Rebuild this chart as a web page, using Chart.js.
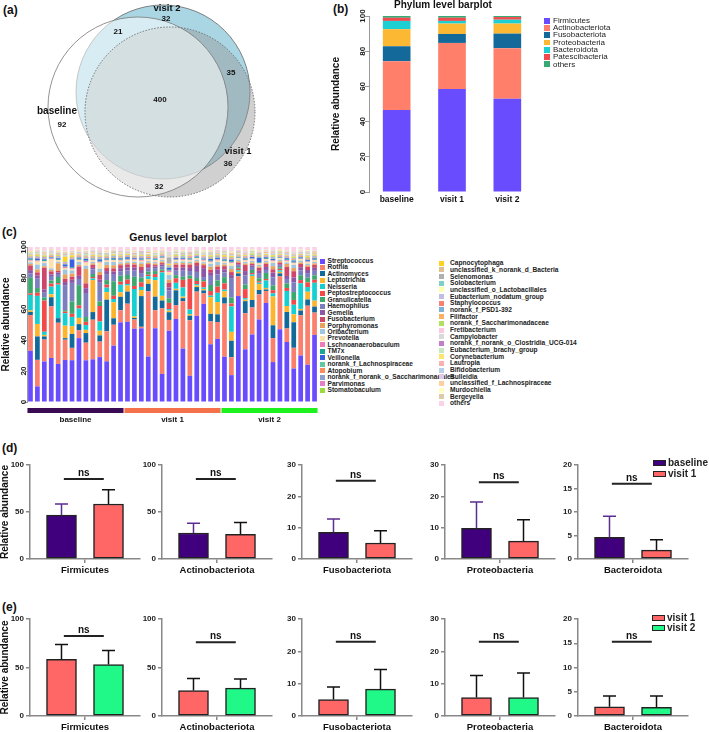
<!DOCTYPE html>
<html>
<head>
<meta charset="utf-8">
<script src="https://cdn.jsdelivr.net/npm/chart.js@4.4.0/dist/chart.umd.min.js"></script>
<style>
  html, body { margin: 0; padding: 0; background: #fff; overflow: hidden; width: 709px; height: 732px; }
  body { position: relative; font-family: Arial, "Liberation Sans", sans-serif; }
  canvas { position: absolute; }
</style>
</head>
<body>
<script>
// ---------- data ----------
// (a) Venn diagram of shared genera
const vennSets = ['baseline', 'visit 1', 'visit 2'];
const vennRegions = ['visit 2 only', 'baseline & visit 2', 'visit 1 & visit 2', 'all', 'baseline only', 'visit 1 only', 'baseline & visit 1'];
const vennCounts = [32, 21, 35, 400, 92, 36, 32];

// (b) phylum level
const phylumGroups = ['baseline', 'visit 1', 'visit 2'];
const phylumNames = ['Firmicutes', 'Actinobacteriota', 'Fusobacteriota', 'Proteobacteria', 'Bacteroidota', 'Patescibacteria', 'others'];
const phylumBaseline = [46.6, 27.7, 8.5, 9.7, 4.7, 1.8, 1.0];
const phylumVisit1 = [58.5, 26.2, 5.1, 5.9, 1.5, 1.8, 1.0];
const phylumVisit2 = [53.0, 28.7, 8.3, 5.7, 2.2, 1.5, 0.6];

// (c) genus level, 42 samples (14 per visit)
const groupNames = ['baseline', 'visit 1', 'visit 2'];
const groupSizes = [14, 14, 14];
const streptococcus = [33,10,26,29,25,27,27,41,26,28, 29,27,35,53,53,48,48,30,49,18, 46,55,35,17,57,66,38,41,29,18, 70,35,45,56,66,25,48,40,21,29, 24,45];
const rothia = [23,17,14,34,27,13,8,5,11,26, 10,20,13,8,12,6,1,43,12,42, 7,9,31,36,16,7,15,11,34,12, 13,24,18,17,8,15,35,9,13,25, 38,15];
const actinomyces = [2,15,2,6,3,1,9,4,6,5, 4,21,4,9,8,1,20,5,9,5, 5,10,2,3,3,2,5,5,4,11, 2,8,5,3,1,8,2,11,16,3, 4,4];
const leptotrichia = [1,8,1,2,0,8,5,4,2,21, 3,5,10,3,4,1,4,3,11,3, 1,1,1,1,1,1,11,8,4,6, 1,1,16,4,1,18,1,4,5,1, 5,4];
const neisseria = [10,18,2,5,22,8,6,6,3,1, 6,3,2,5,1,18,2,2,2,15, 1,4,6,3,1,1,1,6,1,17, 1,1,1,1,5,2,1,10,6,16, 3,12];
const peptostreptococcus = [1,2,20,2,1,1,2,2,2,1, 10,2,2,2,3,2,3,1,2,1, 4,3,5,20,2,4,3,4,4,2, 1,6,1,1,1,2,1,2,3,2, 3,2];
const granulicatella = [10,3,2,2,4,1,8,13,3,2, 3,3,9,4,3,6,3,2,2,1, 3,2,2,2,2,1,4,4,4,4, 1,3,2,2,4,3,1,3,5,3, 3,3];
const haemophilus = [3,6,3,3,2,16,12,4,15,3, 12,4,4,3,3,4,3,2,2,2, 5,3,4,3,4,2,6,4,3,13, 1,6,2,3,2,5,1,3,6,3, 3,3];
const gemella = [2,2,2,1,1,2,2,2,3,1, 2,2,2,2,2,2,2,1,1,1, 2,2,2,2,4,6,2,3,2,2, 1,3,1,2,2,3,1,2,3,2, 2,2];
const fusobacterium = [3,2,14,2,1,2,2,6,3,2, 3,2,2,2,2,2,2,2,1,1, 3,2,2,2,2,2,2,2,2,2, 1,4,1,2,2,2,1,6,4,2, 2,2];
const porphyromonas = [1,2,1,1,5,3,2,1,9,1, 2,2,2,1,1,1,2,1,1,1, 2,1,1,1,1,1,2,1,1,2, 1,1,1,1,1,2,1,2,2,1, 1,1];
const oribacterium = [1,3,2,1,1,3,2,2,2,1, 2,2,2,1,1,1,1,1,1,1, 3,1,1,1,1,1,2,2,1,2, 1,1,1,1,1,2,1,1,2,1, 1,1];
const prevotella = [1,2,1,6,1,1,1,1,2,1, 4,1,1,1,1,1,1,1,1,1, 2,1,1,1,1,1,1,1,1,2, 1,1,1,1,1,1,1,1,1,1, 1,1];
const lschnoanaerobaculum = [.4,.6,.3,.5,.2,.8,.5,.4,1,.3, .6,.4,.3,.5,.2,.4,.6,.2,.3,.4, .8,.3,.5,.4,.2,.6,.5,.7,.3,.6, .2,.4,.5,.3,.4,.6,.2,.5,.4,.3, .5,.4];
const tm7x = [.5,.3,.6,.4,.5,.3,.6,.8,.4,.2, .5,.3,.7,.4,.5,.3,.4,.2,.5,.3, .6,.4,.3,.5,.4,.2,.6,.3,.5,.7, .2,.4,.3,.5,.6,.3,.2,.5,.6,.3, .4,.5];
const veillonella = [.6,1,.5,.3,.6,1.2,5,.5,.8,.4, 1,.6,.5,.6,1,.5,.6,.3,.5,.4, 1.2,.6,.5,.3,.6,.5,1,.6,.5,1, .3,.6,.8,3,.5,.6,.3,.8,.6,.5, .6,.5];
const norankLachnospiraceae = [.4,.2,.5,.3,.4,.5,.3,.2,.4,.3, .5,.4,.2,.4,.3,.2,.5,.3,.2,.4, .5,.2,.4,.3,.2,.4,.3,.5,.4,.2, .3,.4,.2,.5,.3,.4,.2,.3,.5,.4, .2,.4];
const atopobium = [.2,.4,.3,.5,.2,.4,.3,.5,.4,.6, .2,.5,.4,.2,.5,.3,.4,.6,.5,.2, .3,.4,.2,.5,.4,.2,.5,.4,.3,.6, .2,.4,.5,.3,.4,.2,.5,.3,.4,.5, .6,.3];
const norankSaccharimonadales = [.4,.5,.2,.3,.5,.2,.4,.3,.2,.4, .5,.3,.4,.2,.3,.2,.2,.4,.3,.2, .5,.2,.4,.2,.3,.4,.2,.5,.4,.3, .2,.2,.4,.2,.3,.4,.2,.3,.4,.2, .3,.5];
const parvimonas = [.3,.2,.5,.2,.3,.4,.2,.3,.5,.2, .4,.2,.3,.4,.2,.3,.4,.2,.3,.5, .2,.3,.2,.4,.2,.5,.3,.2,.4,.2, .3,.4,.2,.3,.2,.2,.3,.4,.2,.3, .2,.4];
const stomatobaculum = [.2,.5,.4,.3,.2,.4,.5,.2,.3,.4, .2,.5,.3,.4,.2,.5,.2,.3,.4,.2, .3,.5,.4,.2,.3,.2,.4,.3,.2,.5, .3,.2,.4,.3,.2,.4,.3,.2,.5,.2, .4,.3];
const capnocytophaga = [.5,.6,.4,.2,.5,3,1,.4,.2,.5, .6,.2,.5,.4,.5,.2,.4,.5,.2,.4, .6,.5,.2,.4,.2,.5,.6,.4,1,.5, .2,.4,.6,.2,.5,.6,.4,.2,.5,.4, .6,.5];
const unclassifiedBacteria = [.3,.2,.4,.3,.2,.3,.2,.4,.2,.3, .2,.4,.3,.2,.3,.2,.4,.2,.3,.2, .4,.3,.2,.3,.2,.4,.3,.2,.3,.2, .3,.4,.2,.3,.2,.3,.2,.4,.3,.2, .3,.2];
const selenomonas = [.2,.3,.2,0,.3,.2,.4,.2,.3,.2, .3,.2,0,.3,.2,.4,.2,.3,.2,0, 4,.3,.2,.3,0,.2,.3,.2,.4,.2, 0,.3,.2,.2,0,.2,.2,.3,.2,.3, .2,0];
const solobacterium = [.3,.2,.2,.3,.2,.3,0,.2,.3,.2, .2,.3,.2,.3,0,.2,.3,.2,.2,.3, .2,.2,.3,0,.3,.2,.2,.3,.2,.2, .3,0,.3,.2,.2,.3,.2,.2,.3,0, .3,.2];
const unclassifiedLactobacillales = [.2,.2,.3,.2,0,.2,.3,.2,.2,.3, .2,0,.2,.3,.2,.2,0,.3,.2,.2, .2,.3,0,.2,.2,.3,.2,0,.3,.2, .2,.2,.3,0,.2,.2,.3,.2,0,.2, .3,.2];
const eubacteriumNodatum = [.2,0,.2,.3,.2,.2,0,.3,.2,.2, 0,.2,.3,.2,.2,0,.2,.3,.2,0, .2,.2,.3,0,.2,.2,.3,.2,0,.2, .3,.2,0,.2,.2,.3,0,.2,.2,.3, .2,0];
const staphylococcus = [0,.2,.2,0,.3,.2,.2,0,.2,.3, .2,0,.2,.2,0,.3,.2,.2,0,.2, .2,0,.3,.2,.2,0,.2,.2,0,.3, .2,.2,0,.2,.3,0,.2,.2,.2,0, .2,.3];
const norankPSD1 = [.2,.2,0,.2,.2,.3,0,.2,.2,0, .3,.2,.2,0,.2,.2,.3,0,.2,.2, 0,.2,.3,.2,0,.2,.2,0,.3,.2, .2,0,.2,.2,0,.3,.2,.2,0,.2, .2,.2];
const filifactor = [.3,0,.2,.2,0,.2,.3,.2,0,.2, .2,.3,0,.2,.2,0,.2,.3,.2,0, .2,.2,0,.3,.2,.2,0,.2,.2,.3, 0,.2,.2,0,.2,.3,.2,0,.2,.2, 0,.3];
const norankSaccharimonadaceae = [.2,.3,.2,0,.2,.2,.3,0,.2,.2, .2,0,.3,.2,.2,0,.2,.2,.3,0, .2,.2,.2,0,.3,.2,.2,0,.2,.2, .3,0,.2,.2,.2,0,.3,.2,.2,0, .2,.2];
const fretibacterium = [0,.2,.3,.2,0,.2,.2,.2,0,.3, .2,.2,0,.2,.2,.3,0,.2,.2,.2, 0,.3,.2,.2,0,.2,.2,.3,0,.2, .2,.2,0,.3,.2,.2,0,.2,.2,.3, 0,.2];
const campylobacter = [.2,.2,0,.3,.2,0,.2,.2,.3,0, .2,.2,0,.2,.3,.2,0,.2,.2,0, 1.5,.2,.2,0,.2,.3,0,.2,.2,.2, 0,.3,.2,0,.2,.2,.2,0,.3,.2, .2,0];
const clostridiaUCG014 = [0,.2,.2,.2,0,.3,.2,0,.2,.2, .3,0,.2,.2,.2,0,.3,.2,0,.2, .2,.2,0,.3,.2,0,.2,.2,.2,0, .3,.2,0,.2,.2,.2,0,.3,.2,0, .2,.2];
const eubacteriumBrachy = [.2,0,.3,.2,.2,0,.2,.2,0,.3, .2,.2,0,.2,.2,.3,0,.2,.2,0, .2,.3,.2,0,.2,.2,0,.3,.2,.2, 0,.2,.2,.3,0,.2,.2,0,.2,.3, .2,0];
const corynebacterium = [.3,.2,0,.2,.2,.3,0,.2,.2,0, .2,.3,.2,0,.2,.2,0,.3,.2,.2, 0,.2,.2,.3,0,.2,.2,0,.2,.3, .2,0,.2,.2,.3,0,.2,.2,0,.2, .3,.2];
const lautropia = [.2,.2,.3,0,.2,.2,0,.3,.2,.2, 0,.2,.2,.3,0,.2,.2,0,.3,.2, .2,0,.2,.2,.3,0,.2,.2,0,.2, .3,.2,0,.2,.2,0,.3,.2,.2,0, .2,.2];
const bifidobacterium = [0,.2,.2,.3,0,.2,.2,0,.2,.3, .2,0,.2,.2,0,.3,.2,.2,0,.2, .2,.3,0,.2,.2,0,.2,.3,.2,0, .2,.2,0,.3,.2,.2,0,.2,.2,0, .3,.2];
const bulleidia = [.2,0,.2,.2,.3,0,.2,.2,0,.2, .3,.2,0,.2,.2,0,.2,.3,.2,0, .2,.2,0,.3,.2,.2,0,.2,.2,0, .3,.2,.2,0,.2,.2,0,.3,.2,.2, 0,.2];
const unclassifiedLachnospiraceae = [.2,.3,0,.2,.2,0,.3,.2,.2,0, .2,.2,.3,0,.2,.2,0,.2,.3,.2, 0,.2,.2,0,.3,.2,.2,0,.2,.2, 0,.3,.2,.2,0,.2,.2,0,.3,.2, .2,0];
const murdochiella = [0,.2,.2,0,.2,.3,.2,0,.2,.2, 0,.3,.2,.2,0,.2,.2,0,.2,.3, .2,0,.2,.2,0,.3,.2,.2,0,.2, .2,0,.3,.2,.2,0,.2,.2,0,.2, .3,.2];
const bergeyella = [.2,.2,0,.3,.2,.2,0,.2,.2,.3, 0,.2,.2,0,.3,.2,.2,0,.2,.2, .3,0,.2,.2,0,.2,.3,.2,0,.2, .2,.3,0,.2,.2,0,.2,.3,.2,0, .2,.2];
const genusOthers = [2,1.5,2,1.5,2,2.5,2,1.5,2,1.5, 2,2,1.5,2,1.5,2,2,1.5,2,1.5, 2.5,1.5,2,2,1.5,2,2,1.5,2,2.5, 1.5,2,1.5,2,1.5,2,1.5,2,2.5,1.5, 2,2];

const genusNames = ['Streptococcus','Rothia','Actinomyces','Leptotrichia','Neisseria','Peptostreptococcus','Granulicatella','Haemophilus','Gemella','Fusobacterium','Porphyromonas','Oribacterium','Prevotella','Lschnoanaerobaculum','TM7x','Veillonella','norank_f_Lachnospiraceae','Atopobium','norank_f_norank_o_Saccharimonadales','Parvimonas','Stomatobaculum',
  'Capnocytophaga','unclassified_k_norank_d_Bacteria','Selenomonas','Solobacterium','unclassified_o_Lactobacillales','Eubacterium_nodatum_group','Staphylococcus','norank_f_PSD1-392','Filifactor','norank_f_Saccharimonadaceae','Fretibacterium','Campylobacter','norank_f_norank_o_Clostridia_UCG-014','Eubacterium_brachy_group','Corynebacterium','Lautropia','Bifidobacterium','Bulleidia','unclassified_f_Lachnospiraceae','Murdochiella','Bergeyella','others'];
const genusSeries = [streptococcus, rothia, actinomyces, leptotrichia, neisseria, peptostreptococcus, granulicatella, haemophilus, gemella, fusobacterium, porphyromonas, oribacterium, prevotella, lschnoanaerobaculum, tm7x, veillonella, norankLachnospiraceae, atopobium, norankSaccharimonadales, parvimonas, stomatobaculum,
  capnocytophaga, unclassifiedBacteria, selenomonas, solobacterium, unclassifiedLactobacillales, eubacteriumNodatum, staphylococcus, norankPSD1, filifactor, norankSaccharimonadaceae, fretibacterium, campylobacter, clostridiaUCG014, eubacteriumBrachy, corynebacterium, lautropia, bifidobacterium, bulleidia, unclassifiedLachnospiraceae, murdochiella, bergeyella, genusOthers];

// (d) / (e) mean and SD of the five main phyla
const phyla = ['Firmicutes', 'Actinobacteriota', 'Fusobacteriota', 'Proteobacteria', 'Bacteroidota'];
const baselineMean = [46.6, 27.7, 8.5, 9.8, 4.6];
const baselineSD = [12.0, 10.3, 4.3, 8.4, 4.5];
const visit1Mean = [58.5, 26.2, 5.1, 5.7, 1.9];
const visit1SD = [15.3, 12.5, 3.9, 6.8, 2.2];
const visit2Mean = [53.0, 28.7, 8.3, 5.7, 1.8];
const visit2SD = [14.5, 9.5, 6.1, 7.6, 2.3];
const yMax = [100, 100, 30, 30, 20];
const yStep = [50, 50, 10, 10, 5];

// ---------- styles / layout ----------
const FONT = 'Arial, "Liberation Sans", sans-serif';
Chart.defaults.font.family = FONT;
Chart.defaults.color = '#111';
Chart.defaults.animation = false;
Chart.defaults.events = [];
Chart.defaults.plugins.legend.display = false;
Chart.defaults.plugins.tooltip.enabled = false;

const phylumColors = ['#6a4cff', '#ff7f6a', '#12699a', '#fdb833', '#1ccfd2', '#ef4b4f', '#3aa874'];
const genusColors = ['#6a4cff','#fa7f6c','#12699a','#fdb52e','#16cfd0','#f24a4a','#3ca86e','#7b7fbf','#8d56a6','#d0456a','#e9a25e','#9fc6df','#fde0aa','#f07bb8','#1aa595','#3a5fe0','#62c7a0','#ff8a5c','#8aa0d0','#e27fc7','#9bd93c',
  '#fdd021','#dcc08f','#b0b0b0','#7fd0c6','#ffffb0','#c0bfe0','#fa8072','#7fb1d8','#fdb061','#b0e05f','#fcc8e0','#d9d9d9','#c07fc8','#c8e8c0','#fde66f','#fcb1b0','#b7d0e8','#e0c8e8','#fdd19f','#ffffc2','#dccca8','#fcd2e8'];
const groupColors = ['#3a0a55', '#f4714a', '#1ef21e'];
const visitColors = { baseline: '#40007e', visit1: '#ff6666', visit2: '#20f987' };

function makeCanvas(left, top, w, h) {
  const c = document.createElement('canvas');
  c.width = w; c.height = h;
  c.style.left = left + 'px'; c.style.top = top + 'px';
  c.style.width = w + 'px'; c.style.height = h + 'px';
  document.body.appendChild(c);
  return c;
}

function addText(text, x, y, size, weight, align) {
  const d = document.createElement('div');
  d.textContent = text;
  const w = 300;
  const left = align === 'center' ? x - w / 2 : x;
  d.style.cssText = `position:absolute;left:${left}px;top:${y - size * 0.6}px;width:${w}px;text-align:${align || 'left'};` +
    `font:${weight} ${size}px ${FONT};line-height:${size * 1.2}px;white-space:nowrap;color:#111;`;
  document.body.appendChild(d);
}

function addLegend(names, colors, o) {
  names.forEach((name, i) => {
    const y = o.y + i * o.step;
    const sw = document.createElement('div');
    sw.style.cssText = `position:absolute;left:${o.boxX}px;top:${y - o.boxH / 2}px;width:${o.boxW}px;height:${o.boxH}px;background:${colors[i]};box-sizing:border-box;` +
      (o.outline ? 'border:1.3px solid #222;' : '');
    document.body.appendChild(sw);
    const t = document.createElement('div');
    t.textContent = name;
    t.style.cssText = `position:absolute;left:${o.textX}px;top:${y - o.size * 0.6}px;font:${o.weight} ${o.size}px ${FONT};line-height:${o.size * 1.2}px;white-space:nowrap;color:#222;`;
    document.body.appendChild(t);
  });
}

// panel letters
addText('(a)', 3, 10, 12, 'bold');
addText('(b)', 333, 9, 12, 'bold');
addText('(c)', 2, 232, 12, 'bold');
addText('(d)', 2, 448, 12, 'bold');
addText('(e)', 2, 607, 12, 'bold');

// ---------- (a) Venn ----------
// circle centre / radius in pixel units, same order as vennSets (first one is drawn on top)
const vennCircles = [[138, 107, 90], [170, 112, 85], [163, 92, 87]];
const vennFill = ['rgba(255,255,255,0.55)', 'rgba(150,150,150,0.45)', 'rgba(100,180,205,0.55)'];
const vennLine = ['#777', 'rgba(0,0,0,0)', '#666'];
const vennDotted = [false, true, false];
const vennCountPos = [[166, 19], [118, 32], [231, 73], [160, 100], [62, 125], [228, 164], [159, 187]];
const vennSetPos = [[57, 111], [238, 151], [167, 8]];

const vennLabelPlugin = {
  id: 'vennLabels',
  afterDatasetsDraw(chart) {
    const { ctx, scales: { x, y } } = chart;
    ctx.save();
    // dotted outline for the visit 1 circle
    vennDotted.forEach((dotted, i) => {
      if (!dotted) return;
      const pt = chart.getDatasetMeta(i).data[0];
      ctx.strokeStyle = '#666';
      ctx.lineWidth = 0.9;
      ctx.setLineDash([1.5, 1.5]);
      ctx.beginPath();
      ctx.arc(pt.x, pt.y, pt.options.radius, 0, Math.PI * 2);
      ctx.stroke();
      ctx.setLineDash([]);
    });
    ctx.textAlign = 'center';
    ctx.textBaseline = 'middle';
    ctx.fillStyle = '#111';
    ctx.font = 'bold 8px ' + FONT;
    vennCounts.forEach((n, i) => {
      ctx.fillText(String(n), x.getPixelForValue(vennCountPos[i][0]), y.getPixelForValue(vennCountPos[i][1]));
    });
    vennSets.forEach((name, i) => {
      ctx.font = (name === 'baseline' ? 'bold 10px ' : 'bold 9.5px ') + FONT;
      ctx.fillText(name, x.getPixelForValue(vennSetPos[i][0]), y.getPixelForValue(vennSetPos[i][1]));
    });
    ctx.restore();
  }
};

new Chart(makeCanvas(0, 0, 300, 205), {
  type: 'bubble',
  data: {
    datasets: vennSets.map((name, i) => ({
      label: name,
      data: [{ x: vennCircles[i][0], y: vennCircles[i][1], r: vennCircles[i][2] }],
      backgroundColor: vennFill[i],
      borderColor: vennLine[i],
      borderWidth: 0.8,
      clip: false
    }))
  },
  options: {
    responsive: false,
    layout: { padding: 0, autoPadding: false },
    scales: {
      x: { type: 'linear', min: 0, max: 300, display: false },
      y: { type: 'linear', min: 0, max: 205, reverse: true, display: false }
    }
  },
  plugins: [vennLabelPlugin]
});

// ---------- (b) phylum barplot ----------
addText('Phylum level barplot', 443, 5, 10, 'bold', 'center');
new Chart(makeCanvas(330, 6, 205, 200), {
  type: 'bar',
  data: {
    labels: phylumGroups,
    datasets: phylumNames.map((name, i) => ({
      label: name,
      data: [phylumBaseline[i], phylumVisit1[i], phylumVisit2[i]],
      backgroundColor: phylumColors[i],
      barPercentage: 0.5,
      categoryPercentage: 1
    }))
  },
  options: {
    responsive: false,
    layout: { padding: { top: 10, right: 0, bottom: 0, left: 0 } },
    scales: {
      x: {
        stacked: true,
        grid: { display: false, drawTicks: false },
        border: { display: false },
        ticks: { font: { size: 8.5, weight: 'bold' }, padding: 3, color: '#111' },
        afterFit: s => { s.height = 14; }
      },
      y: {
        stacked: true, min: 0, max: 100,
        ticks: { stepSize: 20, minRotation: 90, maxRotation: 90, crossAlign: 'center', padding: -4, font: { size: 8, weight: 'bold' }, color: '#222' },
        grid: { drawOnChartArea: false, tickLength: 4, color: '#999' },
        border: { color: '#999' },
        title: { display: true, text: 'Relative abundance', font: { size: 10, weight: 'bold' }, padding: 0, color: '#111' },
        afterFit: s => { s.width = 39; }
      }
    }
  }
});
addLegend(phylumNames, phylumColors, { boxX: 544, boxW: 5.7, boxH: 5.7, textX: 553, y: 20.7, step: 7.27, size: 8, weight: 'normal' });

// ---------- (c) genus barplot ----------
addText('Genus level barplot', 178, 237, 10.5, 'bold', 'center');
const sampleCount = streptococcus.length;
const sampleTotals = streptococcus.map((_, j) => genusSeries.reduce((s, arr) => s + (arr[j] || 0), 0));

const groupBarPlugin = {
  id: 'groupBars',
  afterDraw(chart) {
    const { ctx, chartArea, scales: { x } } = chart;
    ctx.save();
    let start = 0;
    groupNames.forEach((g, i) => {
      const end = start + groupSizes[i] - 1;
      const x0 = x.getPixelForValue(start) - 3;
      const x1 = x.getPixelForValue(end) + 3;
      ctx.fillStyle = groupColors[i];
      ctx.fillRect(x0, chartArea.bottom + 6, x1 - x0, 5);
      ctx.fillStyle = '#111';
      ctx.font = 'bold 8px ' + FONT;
      ctx.textAlign = 'center';
      ctx.textBaseline = 'middle';
      ctx.fillText(g, (x0 + x1) / 2, chartArea.bottom + 18);
      start = end + 1;
    });
    ctx.restore();
  }
};

new Chart(makeCanvas(0, 240, 320, 192), {
  type: 'bar',
  data: {
    labels: Array.from({ length: sampleCount }, (_, j) => 'S' + (j + 1)),
    datasets: genusNames.map((name, i) => ({
      label: name,
      data: genusSeries[i].map((v, j) => (v || 0) / sampleTotals[j] * 100),
      backgroundColor: genusColors[i],
      barPercentage: 0.68,
      categoryPercentage: 1
    }))
  },
  options: {
    responsive: false,
    layout: { padding: { top: 7, right: 2, bottom: 30, left: 0 } },
    scales: {
      x: { stacked: true, display: false },
      y: {
        stacked: true, min: 0, max: 100,
        ticks: { stepSize: 20, minRotation: 90, maxRotation: 90, crossAlign: 'center', padding: -6, font: { size: 8, weight: 'bold' }, color: '#222' },
        grid: { drawOnChartArea: false, tickLength: 3, color: '#999' },
        border: { color: '#999' },
        title: { display: true, text: 'Relative abundance', font: { size: 10, weight: 'bold' }, padding: 0, color: '#111' },
        afterFit: s => { s.width = 27; }
      }
    }
  },
  plugins: [groupBarPlugin]
});
addLegend(genusNames.slice(0, 21), genusColors.slice(0, 21), { boxX: 320, boxW: 5, boxH: 5, textX: 327.5, y: 261, step: 6.45, size: 6.6, weight: 'bold' });
addLegend(genusNames.slice(21), genusColors.slice(21), { boxX: 439, boxW: 5, boxH: 5, textX: 450, y: 263.3, step: 6.67, size: 6.6, weight: 'bold' });

// ---------- (d) / (e) small comparison charts ----------
const smallAxisX = [30, 162, 302, 445, 578];
const nsLevelD = [85, 85, 25, 24.5, 16];
const nsLevelE = [82.5, 76, 23, 23, 15.3];

const errorBarPlugin = {
  id: 'errbars',
  afterDatasetsDraw(chart, args, opts) {
    const { ctx, scales: { x, y } } = chart;
    const ds = chart.data.datasets[0];
    ctx.save();
    ctx.lineWidth = 1.5;
    chart.getDatasetMeta(0).data.forEach((bar, i) => {
      const v = ds.data[i].y;
      const yBase = y.getPixelForValue(v);
      const yTop = y.getPixelForValue(v + opts.sd[i]);
      ctx.strokeStyle = opts.colors[i];
      ctx.beginPath();
      ctx.moveTo(bar.x, yBase); ctx.lineTo(bar.x, yTop);
      ctx.moveTo(bar.x - 6.5, yTop); ctx.lineTo(bar.x + 6.5, yTop);
      ctx.stroke();
    });
    const yl = y.getPixelForValue(opts.ns);
    ctx.strokeStyle = '#222';
    ctx.lineWidth = 2;
    ctx.beginPath();
    ctx.moveTo(x.getPixelForValue(0.05), yl);
    ctx.lineTo(x.getPixelForValue(0.9), yl);
    ctx.stroke();
    ctx.fillStyle = '#111';
    ctx.font = 'bold 10px ' + FONT;
    ctx.textAlign = 'center';
    ctx.textBaseline = 'alphabetic';
    ctx.fillText('ns', x.getPixelForValue(0.475), yl - 3);
    ctx.restore();
  }
};

function smallChart(i, top, areaTop, areaBottom, axisH, first, second, nsLevel, errColors) {
  const withTitle = i === 0;
  const yw = withTitle ? 31 : 28;
  const canvas = makeCanvas(smallAxisX[i] - yw, top, yw + 114, areaBottom - top + axisH);
  new Chart(canvas, {
    type: 'bar',
    data: {
      datasets: [{
        data: [{ x: 0, y: first.mean[i] }, { x: 1, y: second.mean[i] }],
        backgroundColor: [first.color, second.color],
        borderColor: '#222',
        borderWidth: 1.5,
        borderSkipped: false,
        barThickness: 30
      }]
    },
    options: {
      responsive: false,
      layout: { padding: { top: areaTop - top, right: 4, left: 0, bottom: 0 } },
      plugins: { errbars: { sd: [first.sd[i], second.sd[i]], colors: errColors, ns: nsLevel[i] } },
      scales: {
        x: {
          type: 'linear', min: -0.67, max: 1.67, offset: false,
          afterBuildTicks: s => { s.ticks = [{ value: 0.5 }]; },
          ticks: { callback: () => phyla[i], font: { size: 9.5, weight: 'bold' }, padding: 2, color: '#111', maxRotation: 0 },
          grid: { drawOnChartArea: false, tickLength: 4, color: '#888', lineWidth: 1.5, offset: false },
          border: { color: '#888', width: 1.5 },
          afterFit: s => { s.height = axisH; }
        },
        y: {
          min: 0, max: yMax[i],
          ticks: { stepSize: yStep[i], font: { size: 8, weight: 'bold' }, padding: 2, color: '#222' },
          grid: { drawOnChartArea: false, tickLength: 4, color: '#888', lineWidth: 1.5 },
          border: { color: '#888', width: 1.5 },
          title: { display: withTitle, text: 'Relative abundance', font: { size: 10, weight: 'bold' }, padding: 0, color: '#111' },
          afterFit: s => { s.width = yw; }
        }
      }
    },
    plugins: [errorBarPlugin]
  });
}

const baselineGroup = { mean: baselineMean, sd: baselineSD, color: visitColors.baseline };
const visit1Group = { mean: visit1Mean, sd: visit1SD, color: visitColors.visit1 };
const visit2Group = { mean: visit2Mean, sd: visit2SD, color: visitColors.visit2 };

phyla.forEach((p, i) => {
  smallChart(i, 450, 465, 559, 26, baselineGroup, visit1Group, nsLevelD, ['#5c2d91', '#111']);
  smallChart(i, 604, 619, 716, 16, visit1Group, visit2Group, nsLevelE, ['#111', '#111']);
});
addLegend(['baseline', 'visit 1'], [visitColors.baseline, visitColors.visit1], { boxX: 653, boxW: 13, boxH: 6, textX: 668, y: 463.3, step: 11, size: 10, weight: 'bold', outline: true });
addLegend(['visit 1', 'visit 2'], [visitColors.visit1, visitColors.visit2], { boxX: 652, boxW: 13, boxH: 6, textX: 667, y: 617.7, step: 10, size: 10, weight: 'bold', outline: true });
</script>
</body>
</html>
